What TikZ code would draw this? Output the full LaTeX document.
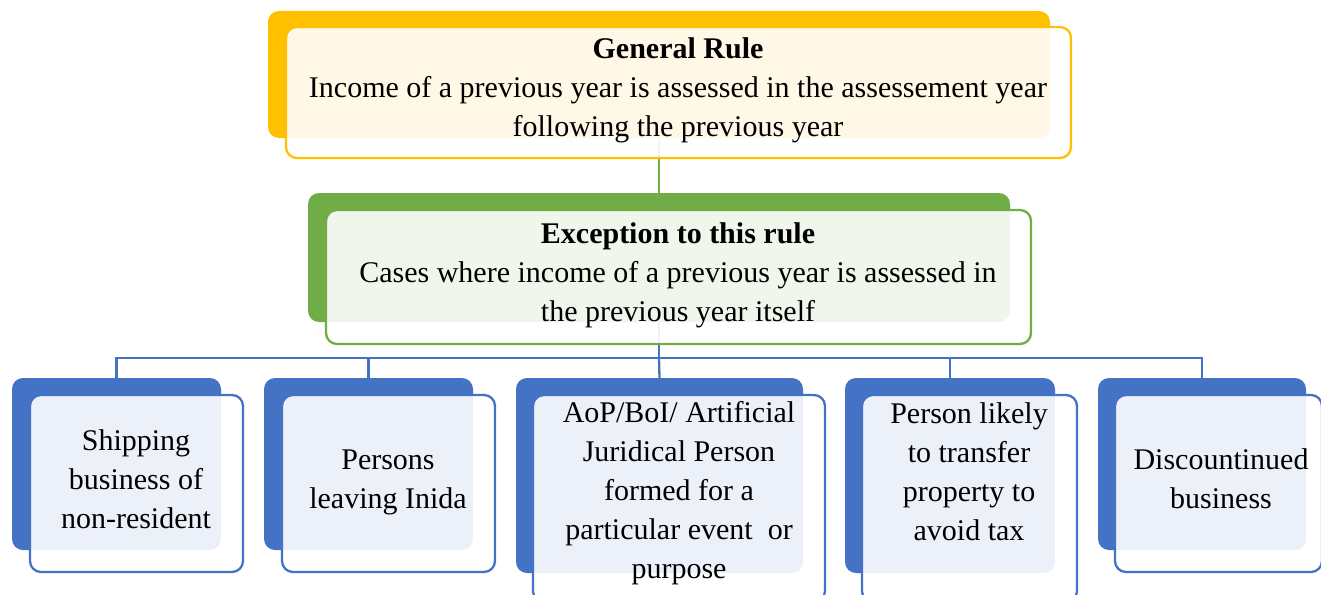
\documentclass[tikz,border=0pt]{standalone}
\usepackage{fontspec}
\setmainfont{Liberation Serif}
\usetikzlibrary{backgrounds}
\definecolor{rulegold}{HTML}{FFC000}
\definecolor{excgreen}{HTML}{70AD47}
\definecolor{caseblue}{HTML}{4472C4}
\tikzset{
  backbox/.style={rounded corners=11pt, inner sep=0pt, outer sep=0pt, fill=#1},
  frontbox/.style={rounded corners=11pt, inner sep=0pt, outer sep=0pt, draw=#1, line width=2.3pt, fill=white, fill opacity=0.9},
  boxtext/.style={align=center, font=\fontsize{30}{39}\selectfont, inner sep=0pt},
  link/.style={draw=#1, line width=2.3pt}
}
\begin{document}
\begin{tikzpicture}[x=1pt,y=-1pt]
  \useasboundingbox (0,0) rectangle (1321,594);
  % general rule
  \node[backbox=rulegold, minimum width=782pt, minimum height=127pt] (ruleback) at (659,74.5) {};
  \node[frontbox=rulegold, minimum width=785pt, minimum height=131pt] (rulefront) at (678.5,92.5) {};
  \node[boxtext] (ruletext) at (678,90) {\textbf{General Rule}\\Income of a previous year is assessed in the assessement year\\following the previous year};
  % exception
  \node[backbox=excgreen, minimum width=702pt, minimum height=129pt] (excback) at (659,257.5) {};
  \node[frontbox=excgreen, minimum width=705pt, minimum height=134pt] (excfront) at (678.5,277) {};
  \node[boxtext] (exctext) at (678,275) {\textbf{Exception to this rule}\\Cases where income of a previous year is assessed in\\the previous year itself};
  % cases
  \node[backbox=caseblue, minimum width=209pt, minimum height=172pt] (shipback) at (116.5,464) {};
  \node[frontbox=caseblue, minimum width=213pt, minimum height=177pt] (shipfront) at (136.5,483.5) {};
  \node[boxtext] (shiptext) at (136,479.5) {Shipping\\business of\\non-resident};
  \node[backbox=caseblue, minimum width=209pt, minimum height=172pt] (leaveback) at (368.5,464) {};
  \node[frontbox=caseblue, minimum width=213pt, minimum height=177pt] (leavefront) at (388.5,483.5) {};
  \node[boxtext] (leavetext) at (388,482.5) {Persons\\leaving Inida};
  \node[backbox=caseblue, minimum width=287pt, minimum height=195pt] (aopback) at (659.5,475.5) {};
  \node[frontbox=caseblue, minimum width=292pt, minimum height=207pt] (aopfront) at (679,498.5) {};
  \node[boxtext] (aoptext) at (679,493) {AoP/BoI/ Artificial\\Juridical Person\\formed for a\\particular event~ or\\purpose};
  \node[backbox=caseblue, minimum width=210pt, minimum height=195pt] (transferback) at (950,475.5) {};
  \node[frontbox=caseblue, minimum width=215pt, minimum height=207pt] (transferfront) at (969.5,498.5) {};
  \node[boxtext] (transfertext) at (969,471.5) {Person likely\\to transfer\\property to\\avoid tax};
  \node[backbox=caseblue, minimum width=208pt, minimum height=172pt] (stopback) at (1202,464) {};
  \node[frontbox=caseblue, minimum width=207pt, minimum height=177pt] (stopfront) at (1218.5,483.5) {};
  \node[boxtext] (stoptext) at (1221,478.5) {Discountinued\\business};
  \begin{scope}[on background layer]
    \coordinate (bus) at (659,358);
    \draw[link=excgreen] (ruleback.south) -- (excback.north);
    \draw[link=caseblue] (excback.south) -- (bus);
    \draw[link=caseblue] (bus) -| (shipback.north);
    \draw[link=caseblue] (bus) -| (leaveback.north);
    \draw[link=caseblue] (bus) -- (aopback.north);
    \draw[link=caseblue] (bus) -| (transferback.north);
    \draw[link=caseblue] (bus) -| (stopback.north);
  \end{scope}
\end{tikzpicture}
\end{document}
